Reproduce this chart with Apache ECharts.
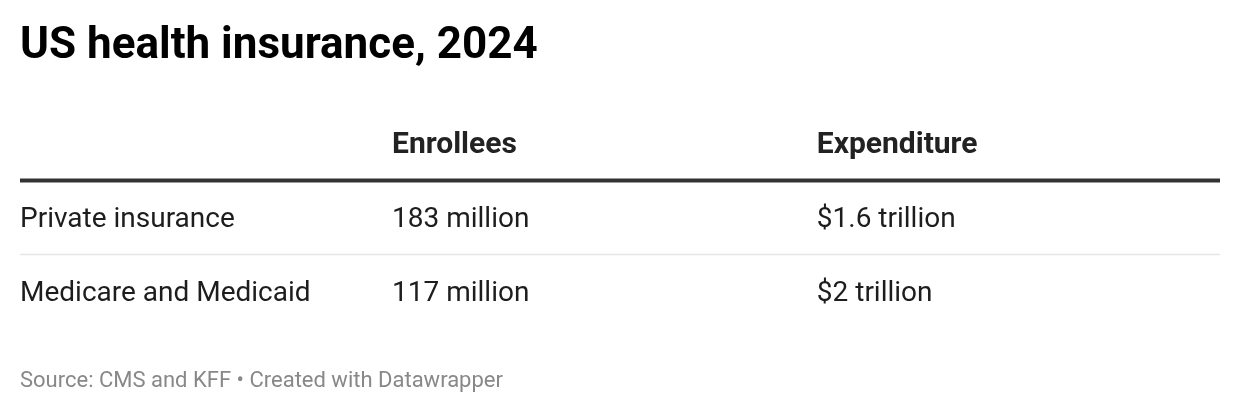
<!DOCTYPE html>
<html>
<head>
<meta charset="utf-8">
<script src="https://cdn.jsdelivr.net/npm/echarts@6/dist/echarts.min.js"></script>
<style>
html,body{margin:0;padding:0;background:#fff;}
#chart{width:1240px;height:414px;}
</style>
</head>
<body>
<div id="chart"></div>
<script>
// ---- data ----
const titleText = 'US health insurance, 2024';
const sourceText = 'Source: CMS and KFF \u2022 Created with Datawrapper';
const columnHeaders = ['', 'Enrollees', 'Expenditure'];
const rowLabels = ['Private insurance', 'Medicare and Medicaid'];
const enrolleesMillions = [183, 117];
const expenditureTrillions = [1.6, 2];

// ---- layout ----
const colStart = [0, 0.31, 0.664];
const FONT = 'Roboto, "Noto Sans", sans-serif';
const TEXT_DY = 2;

const rowsCat = ['header'].concat(rowLabels);
const cells = [];
columnHeaders.forEach((h, c) => cells.push([c, 0, h, 1]));
rowLabels.forEach((r, i) => {
  cells.push([0, i + 1, r, 0]);
  cells.push([1, i + 1, enrolleesMillions[i] + ' million', 0]);
  cells.push([2, i + 1, '$' + expenditureTrillions[i] + ' trillion', 0]);
});
const separators = rowsCat.slice(0, -1).map((_, i) => [i, i === 0 ? 1 : 0]);

const chart = echarts.init(document.getElementById('chart'), null, {renderer: 'canvas'});
chart.setOption({
  backgroundColor: '#fff',
  animation: false,
  graphic: [
    {type: 'text', silent: true, z: 10, x: 20, y: 47,
     style: {text: titleText, fontFamily: FONT, fontSize: 44, fontWeight: 'bold',
             fill: '#000', textAlign: 'left', textVerticalAlign: 'middle'}},
    {type: 'text', silent: true, z: 10, x: 20, y: 381.5,
     style: {text: sourceText, fontFamily: FONT, fontSize: 22, fontWeight: 'normal',
             fill: '#888', textAlign: 'left', textVerticalAlign: 'middle'}}
  ],
  grid: {left: 20, right: 20, top: 106.5, height: 222},
  xAxis: {type: 'value', min: 0, max: 1, show: false},
  yAxis: {type: 'category', data: rowsCat, inverse: true, show: false},
  series: [
    {
      type: 'custom',
      coordinateSystem: 'cartesian2d',
      data: separators,
      silent: true,
      renderItem: function (params, api) {
        const r = api.value(0);
        const thick = api.value(1) === 1;
        const band = api.size([0, 1])[1];
        const p0 = api.coord([0, r]);
        const p1 = api.coord([1, r]);
        const y = p0[1] + band / 2;
        return {
          type: 'line',
          shape: {x1: p0[0], y1: y, x2: p1[0], y2: y},
          style: {stroke: thick ? '#333' : '#e6e6e6', lineWidth: thick ? 4 : 1.5}
        };
      }
    },
    {
      type: 'custom',
      coordinateSystem: 'cartesian2d',
      data: cells,
      silent: true,
      renderItem: function (params, api) {
        const c = api.value(0);
        const r = api.value(1);
        const item = cells[params.dataIndex];
        const p = api.coord([colStart[c], r]);
        return {
          type: 'text',
          x: p[0], y: p[1] + TEXT_DY,
          style: {
            text: item[2],
            fontFamily: FONT,
            fontSize: item[3] ? 30 : 28,
            fontWeight: item[3] ? 'bold' : 'normal',
            fill: item[3] ? '#222' : '#1d1d1d',
            textAlign: 'left',
            textVerticalAlign: 'middle'
          }
        };
      }
    }
  ]
});
</script>
</body>
</html>
